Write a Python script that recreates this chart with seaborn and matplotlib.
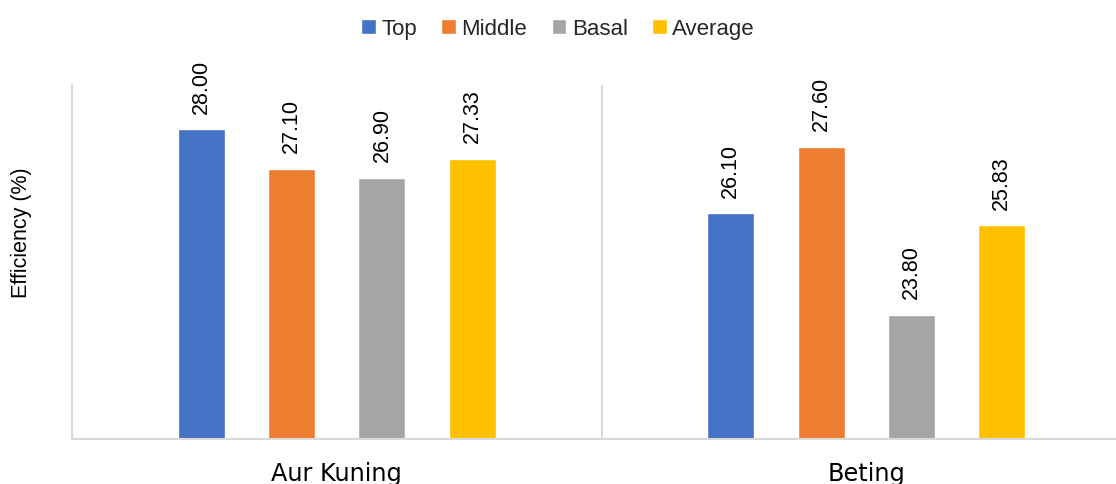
import matplotlib
matplotlib.use("Agg")
import matplotlib.pyplot as plt
from matplotlib import font_manager
import seaborn as sns
import pandas as pd

varieties = ["Aur Kuning", "Beting"]
positions = ["Top", "Middle", "Basal", "Average"]
top = [28.00, 26.10]
middle = [27.10, 27.60]
basal = [26.90, 23.80]
average = [27.33, 25.83]
colors = ["#4472C4", "#ED7D31", "#A5A5A5", "#FFC000"]
ylabel = "Efficiency (%)"

rows = []
for series, name in zip([top, middle, basal, average], positions):
    for v, val in zip(varieties, series):
        rows.append({"Variety": v, "Position": name, "Efficiency": val})
df = pd.DataFrame(rows)

sns.set_theme(style="white")
names = {f.name for f in font_manager.fontManager.ttflist}
narrow = None
for cand in ["Liberation Sans Narrow", "DejaVu Sans Condensed", "Liberation Sans"]:
    if cand in names:
        narrow = cand
        break
plt.rcParams["font.family"] = [narrow, "DejaVu Sans"]

fig = plt.figure(figsize=(11.16, 4.85), dpi=100)
ax = fig.add_axes([72 / 1116, 45 / 485, (1131 - 72) / 1116, (440 - 86) / 485])

sns.barplot(data=df, x="Variety", y="Efficiency", hue="Position",
            order=varieties, hue_order=positions, palette=colors,
            width=0.682, gap=0.48, ax=ax, legend=True, saturation=1)

ax.set_ylim(21, 29)
ax.set_xlim(-0.5, 1.5)
ax.set_yticks([])
ax.set_xlabel("")
ax.set_ylabel(ylabel, fontsize=15.5, color="#000000")
ax.yaxis.set_label_coords(-0.038, 0.585)
ax.tick_params(axis="x", length=0, pad=16)
ax.set_xticks([0, 1])
ax.set_xticklabels(varieties, fontdict={"family": "DejaVu Sans", "size": 17.3, "color": "#000000"})

for side in ["top", "right"]:
    ax.spines[side].set_visible(False)
for side in ["left", "bottom"]:
    ax.spines[side].set_color("#d9d9d9")
    ax.spines[side].set_linewidth(1.5)
ax.axvline(0.5, color="#d9d9d9", linewidth=1.5)

for cont in ax.containers:
    ax.bar_label(cont, fmt="%.2f", rotation=90, padding=12, fontsize=15.5, color="#000000")

leg = ax.get_legend()
handles = leg.legend_handles
leg.remove()
fig.legend(handles, positions, loc="center", bbox_to_anchor=(0.5, 1 - 29.5 / 485),
           ncol=4, frameon=False, fontsize=16, handlelength=0.65, handleheight=0.65,
           handletextpad=0.25, columnspacing=1.1, borderpad=0)

fig.savefig("out.png", dpi=100)
